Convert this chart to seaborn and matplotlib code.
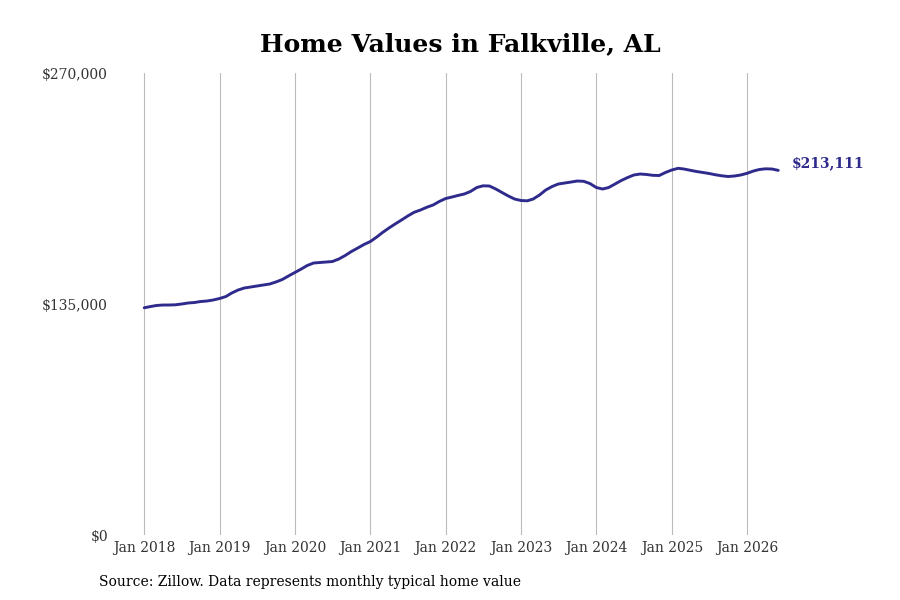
import pandas as pd
import numpy as np
import matplotlib
matplotlib.use("Agg")
import matplotlib.pyplot as plt
import matplotlib.dates as mdates
import seaborn as sns

# ---- data ----
start_month = "2018-01-01"
values = [
    132800, 133540, 134130, 134420, 134420, 134540, 135000, 135590, 135880, 136460, 136760, 137340,
    138220, 139390, 141430, 143190, 144360, 144940, 145520, 146110, 146690, 147860, 149320, 151370,
    153420, 155460, 157500, 158970, 159260, 159550, 159840, 161300, 163350, 165690, 167730, 169780,
    171530, 174160, 176790, 179420, 181760, 184100, 186430, 188600, 189940, 191520, 192860, 194910,
    196660, 197540, 198420, 199290, 200750, 203090, 204080, 203970, 202210, 200170, 198120, 196370,
    195490, 195320, 196370, 198710, 201630, 203670, 205140, 205720, 206300, 206890, 206710, 205430,
    203090, 202210, 203090, 205140, 207180, 208930, 210400, 210980, 210690, 210220, 210100, 211860,
    213320, 214310, 213900, 213140, 212440, 211860, 211280, 210520, 209930, 209520, 209810, 210400,
    211390, 212740, 213610, 214020, 213900, 213111,
]
year_ticks = ["2018", "2019", "2020", "2021", "2022", "2023", "2024", "2025", "2026"]
y_ticks = [0, 135000, 270000]
title = "Home Values in Falkville, AL"
source = "Source: Zillow. Data represents monthly typical home value"
end_label = "$213,111"

dates = pd.date_range(start_month, periods=len(values), freq="MS")
df = pd.DataFrame({"date": dates, "value": values})

sns.set_theme(style="white")
plt.rcParams["font.family"] = ["DejaVu Serif", "DejaVu Sans"]

line_color = "#2e2b8c"

fig = plt.figure(figsize=(9, 6), dpi=100)
ax = fig.add_axes([0.13, 0.1083, 0.74, 0.77])

sns.lineplot(data=df, x="date", y="value", ax=ax, color=line_color, linewidth=2.1)

ax.set_ylim(0, 270000)
ax.set_xlim(pd.Timestamp("2017-08-22"), pd.Timestamp("2026-06-24"))

ax.set_yticks(y_ticks)
ax.set_yticklabels([f"${v:,.0f}" for v in y_ticks])
xt = [pd.Timestamp(f"{y}-01-01") for y in year_ticks]
ax.set_xticks(xt)
ax.set_xticklabels([f"Jan {y}" for y in year_ticks])

ax.tick_params(axis="both", length=0, labelsize=10, labelcolor="#333333")
ax.tick_params(axis="y", pad=6.5)
ax.tick_params(axis="x", pad=4)
ax.set_xlabel("")
ax.set_ylabel("")
for s in ax.spines.values():
    s.set_visible(False)
ax.grid(False)
ax.xaxis.grid(True, color="#bbbbbb", linewidth=0.8)
ax.set_axisbelow(True)

ax.annotate(end_label, xy=(df["date"].iloc[-1], df["value"].iloc[-1]),
            xytext=(9.5, 5), textcoords="offset points", ha="left", va="center",
            fontsize=10, fontweight="bold", color=line_color)

fig.text(0.512, 0.926, title, ha="center", va="center", fontsize=18, fontweight="bold", color="black")
fig.text(0.11, 0.03, source, ha="left", va="center", fontsize=10, color="black")

fig.savefig("out.png", dpi=100)
